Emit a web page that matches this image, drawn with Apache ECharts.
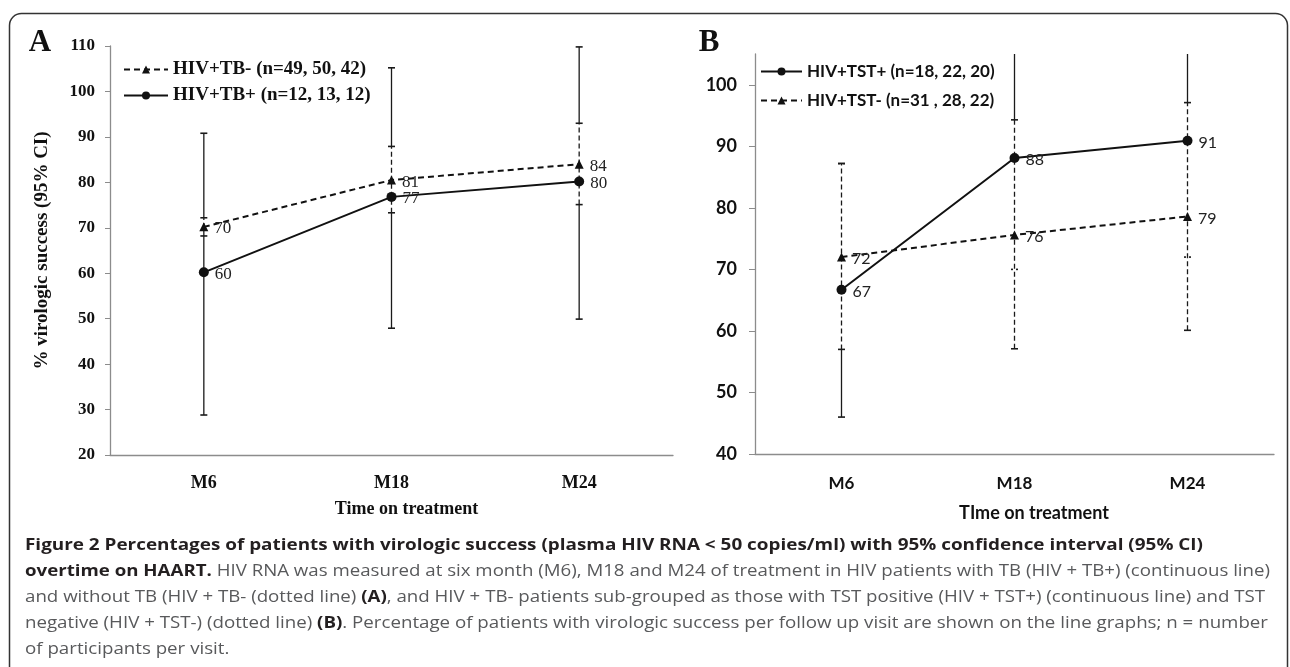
<!DOCTYPE html>
<html>
<head>
<meta charset="utf-8">
<script src="https://cdn.jsdelivr.net/npm/echarts@6/dist/echarts.min.js"></script>
<style>
  html, body { margin: 0; padding: 0; background: #fff; }
  #chart { width: 1290px; height: 667px; }
</style>
</head>
<body>
<div id="chart"></div>
<script>
const visits = ["M6", "M18", "M24"];

// panel A: HIV+TB- (dashed) and HIV+TB+ (solid)
const tbNegName = "HIV+TB- (n=49, 50, 42)";
const tbNeg = [70.2, 80.5, 84.0];
const tbNegLow = [68.2, 73.3, 75.1];
const tbNegHigh = [72.2, 87.9, 93.0];
const tbPosName = "HIV+TB+ (n=12, 13, 12)";
const tbPos = [60.2, 76.8, 80.2];
const tbPosLow = [28.8, 47.9, 49.9];
const tbPosHigh = [90.8, 105.2, 109.8];
const ticksA = [20, 30, 40, 50, 60, 70, 80, 90, 100, 110];

// panel B: HIV+TST+ (solid) and HIV+TST- (dashed)
const tstPosName = "HIV+TST+ (n=18, 22, 20)";
const tstPos = [66.7, 88.1, 90.9];
const tstPosLow = [46.0, 70.0, 72.0];
const tstPosHigh = [87.2, 110, 110];
const tstNegName = "HIV+TST- (n=31 , 28, 22)";
const tstNeg = [72.0, 75.6, 78.6];
const tstNegLow = [57.0, 57.1, 60.1];
const tstNegHigh = [87.2, 94.3, 97.1];
const ticksB = [40, 50, 60, 70, 80, 90, 100];

const SERIF = '"Liberation Serif", "Times New Roman", serif';
const SANS = 'Lato, "Open Sans", sans-serif';
const CAP = '"Open Sans", "Noto Sans", sans-serif';
const AXIS_GREY = "#8c8c8c";
const INK = "#111";

const chart = echarts.init(document.getElementById("chart"));

function bars(low, high) {
  return low.map((v, i) => [i, v, high[i]]);
}

function errorBars(dashed) {
  return function (params, api) {
    const i = api.value(0);
    const lo = api.coord([i, api.value(1)]);
    const hi = api.coord([i, api.value(2)]);
    const c = 3.5;
    const st = { stroke: "#1a1a1a", lineWidth: 1.3, lineDash: dashed ? [5, 3] : null };
    const kids = [];
    if (dashed) {
      // white underlay so the dashes read as dashes over the solid bar
      kids.push({ type: "line", shape: { x1: lo[0], y1: lo[1], x2: hi[0], y2: hi[1] },
        style: { stroke: "#fff", lineWidth: 3 } });
    }
    kids.push({ type: "line", shape: { x1: lo[0], y1: lo[1], x2: hi[0], y2: hi[1] }, style: st });
    kids.push({ type: "line", shape: { x1: lo[0] - c, y1: lo[1], x2: lo[0] + c, y2: lo[1] },
      style: { stroke: "#1a1a1a", lineWidth: 1.6 } });
    kids.push({ type: "line", shape: { x1: hi[0] - c, y1: hi[1], x2: hi[0] + c, y2: hi[1] },
      style: { stroke: "#1a1a1a", lineWidth: 1.6 } });
    return { type: "group", children: kids };
  };
}

function lineSeries(name, data, dashed, symbol, idx, font) {
  return {
    name: name,
    type: "line",
    xAxisIndex: idx,
    yAxisIndex: idx,
    data: data,
    symbol: symbol,
    symbolSize: symbol === "circle" ? 10 : 9,
    color: INK,
    lineStyle: { color: INK, width: 2, type: dashed ? [6, 4] : "solid" },
    itemStyle: { color: INK },
    label: {
      show: true,
      position: "right",
      distance: 6,
      offset: [0, 2],
      formatter: (p) => Math.round(p.value),
      fontFamily: font,
      fontSize: idx === 0 ? 17 : 16,
      color: "#222"
    },
    z: 5
  };
}

function errSeries(idx, low, high, dashed) {
  return {
    type: "custom",
    name: "err" + idx + (dashed ? "d" : "s"),
    xAxisIndex: idx,
    yAxisIndex: idx,
    clip: true,
    renderItem: errorBars(dashed),
    data: bars(low, high),
    z: 2
  };
}

// caption lines: [text, bold] pieces
const captionLines = [
  [["Figure 2 Percentages of patients with virologic success (plasma HIV RNA < 50 copies/ml) with 95% confidence interval (95% CI)", true]],
  [["overtime on HAART.", true], [" HIV RNA was measured at six month (M6), M18 and M24 of treatment in HIV patients with TB (HIV + TB+) (continuous line)", false]],
  [["and without TB (HIV + TB- (dotted line) ", false], ["(A)", true], [", and HIV + TB- patients sub-grouped as those with TST positive (HIV + TST+) (continuous line) and TST", false]],
  [["negative (HIV + TST-) (dotted line) ", false], ["(B)", true], [". Percentage of patients with virologic success per follow up visit are shown on the line graphs; n = number", false]],
  [["of participants per visit.", false]]
];
const captionRight = [1203, 1270, 1265, 1268, null];

const ctx = document.createElement("canvas").getContext("2d");
function measure(pieces) {
  let w = 0;
  pieces.forEach(([t, b]) => {
    ctx.font = (b ? "bold " : "") + "16px " + CAP;
    w += ctx.measureText(t).width;
  });
  return w;
}

const captionGraphics = [];
let lastScale = 1;
captionLines.forEach((pieces, k) => {
  const w = measure(pieces);
  const s = captionRight[k] ? (captionRight[k] - 25) / w : lastScale;
  lastScale = s;
  captionGraphics.push({
    type: "text",
    x: 25,
    y: 545 + k * 26,
    scaleX: s,
    style: {
      text: pieces.map(([t, b]) => "{" + (b ? "b" : "r") + "|" + t + "}").join(""),
      rich: {
        b: { fontFamily: CAP, fontSize: 16, fontWeight: "bold", fill: "#231f20" },
        r: { fontFamily: CAP, fontSize: 16, fill: "#58595b" }
      },
      verticalAlign: "middle",
      align: "left"
    }
  });
});

const option = {
  animation: false,
  backgroundColor: "#fff",
  grid: [
    { left: 110, right: 617, top: 46, bottom: 212 },
    { left: 755, right: 16, top: 54, bottom: 213 }
  ],
  legend: [
    {
      data: [tbNegName, tbPosName],
      orient: "vertical",
      left: 123,
      top: 60,
      padding: 0,
      itemWidth: 44,
      itemHeight: 10,
      itemGap: 7,
      selectedMode: false,
      textStyle: { fontFamily: SERIF, fontWeight: "bold", fontSize: 19, color: INK, lineHeight: 19 }
    },
    {
      data: [tstPosName, tstNegName],
      orient: "vertical",
      left: 760,
      top: 63,
      padding: 0,
      itemWidth: 41,
      itemHeight: 10,
      itemGap: 12,
      selectedMode: false,
      textStyle: { fontFamily: SANS, fontWeight: "bold", fontSize: 17, color: INK, lineHeight: 17 }
    }
  ],
  xAxis: [
    {
      gridIndex: 0,
      type: "category",
      data: visits,
      boundaryGap: true,
      axisLine: { lineStyle: { color: AXIS_GREY, width: 1.3 } },
      axisTick: { alignWithLabel: true, length: 5, lineStyle: { color: AXIS_GREY } },
      axisLabel: { fontFamily: SERIF, fontWeight: "bold", fontSize: 18, color: INK, margin: 19 },
      name: "Time on treatment",
      nameLocation: "middle",
      nameGap: 45,
      nameTextStyle: { fontFamily: SERIF, fontWeight: "bold", fontSize: 18, color: INK, padding: [0, 0, 0, 30] }
    },
    {
      gridIndex: 1,
      type: "category",
      data: visits,
      boundaryGap: true,
      axisLine: { lineStyle: { color: AXIS_GREY, width: 1.3 } },
      axisTick: { alignWithLabel: true, length: 5, lineStyle: { color: AXIS_GREY } },
      axisLabel: { fontFamily: SANS, fontWeight: "bold", fontSize: 17, color: INK, margin: 21 },
      name: "TIme on treatment",
      nameLocation: "middle",
      nameGap: 50,
      nameTextStyle: { fontFamily: SANS, fontWeight: "bold", fontSize: 18, color: INK, padding: [0, 0, 0, 39] }
    }
  ],
  yAxis: [
    {
      gridIndex: 0,
      type: "value",
      min: 20,
      max: 110,
      interval: 10,
      splitLine: { show: false },
      axisLine: { show: true, lineStyle: { color: AXIS_GREY, width: 1.3 } },
      axisTick: { show: true, length: 5, lineStyle: { color: AXIS_GREY }, customValues: ticksA },
      axisLabel: { fontFamily: SERIF, fontWeight: "bold", fontSize: 17, color: INK, margin: 15, customValues: ticksA },
      name: "% virologic success (95% CI)",
      nameLocation: "middle",
      nameGap: 58,
      nameRotate: 90,
      nameTextStyle: { fontFamily: SERIF, fontWeight: "bold", fontSize: 19, color: INK }
    },
    {
      gridIndex: 1,
      type: "value",
      min: 40,
      max: 105,
      interval: 10,
      splitLine: { show: false },
      axisLine: { show: true, lineStyle: { color: AXIS_GREY, width: 1.3 } },
      axisTick: { show: true, length: 6, lineStyle: { color: AXIS_GREY }, customValues: ticksB },
      axisLabel: { fontFamily: SANS, fontWeight: "bold", fontSize: 18, color: INK, margin: 18, customValues: ticksB }
    }
  ],
  graphic: [
    {
      type: "rect",
      shape: { x: 9.5, y: 13.5, width: 1278, height: 720, r: 12 },
      style: { fill: "none", stroke: "#333", lineWidth: 1.5 },
      silent: true
    },
    { type: "text", x: 40, y: 43, style: { text: "A", font: "bold 31px " + SERIF, fill: INK, align: "center", verticalAlign: "middle" } },
    { type: "text", x: 709, y: 43, style: { text: "B", font: "bold 31px " + SERIF, fill: INK, align: "center", verticalAlign: "middle" } }
  ].concat(captionGraphics),
  series: [
    errSeries(0, tbPosLow, tbPosHigh, false),
    errSeries(0, tbNegLow, tbNegHigh, true),
    lineSeries(tbNegName, tbNeg, true, "triangle", 0, SERIF),
    lineSeries(tbPosName, tbPos, false, "circle", 0, SERIF),
    errSeries(1, tstPosLow, tstPosHigh, false),
    errSeries(1, tstNegLow, tstNegHigh, true),
    lineSeries(tstPosName, tstPos, false, "circle", 1, SANS),
    lineSeries(tstNegName, tstNeg, true, "triangle", 1, SANS)
  ]
};

chart.setOption(option);
</script>
</body>
</html>
